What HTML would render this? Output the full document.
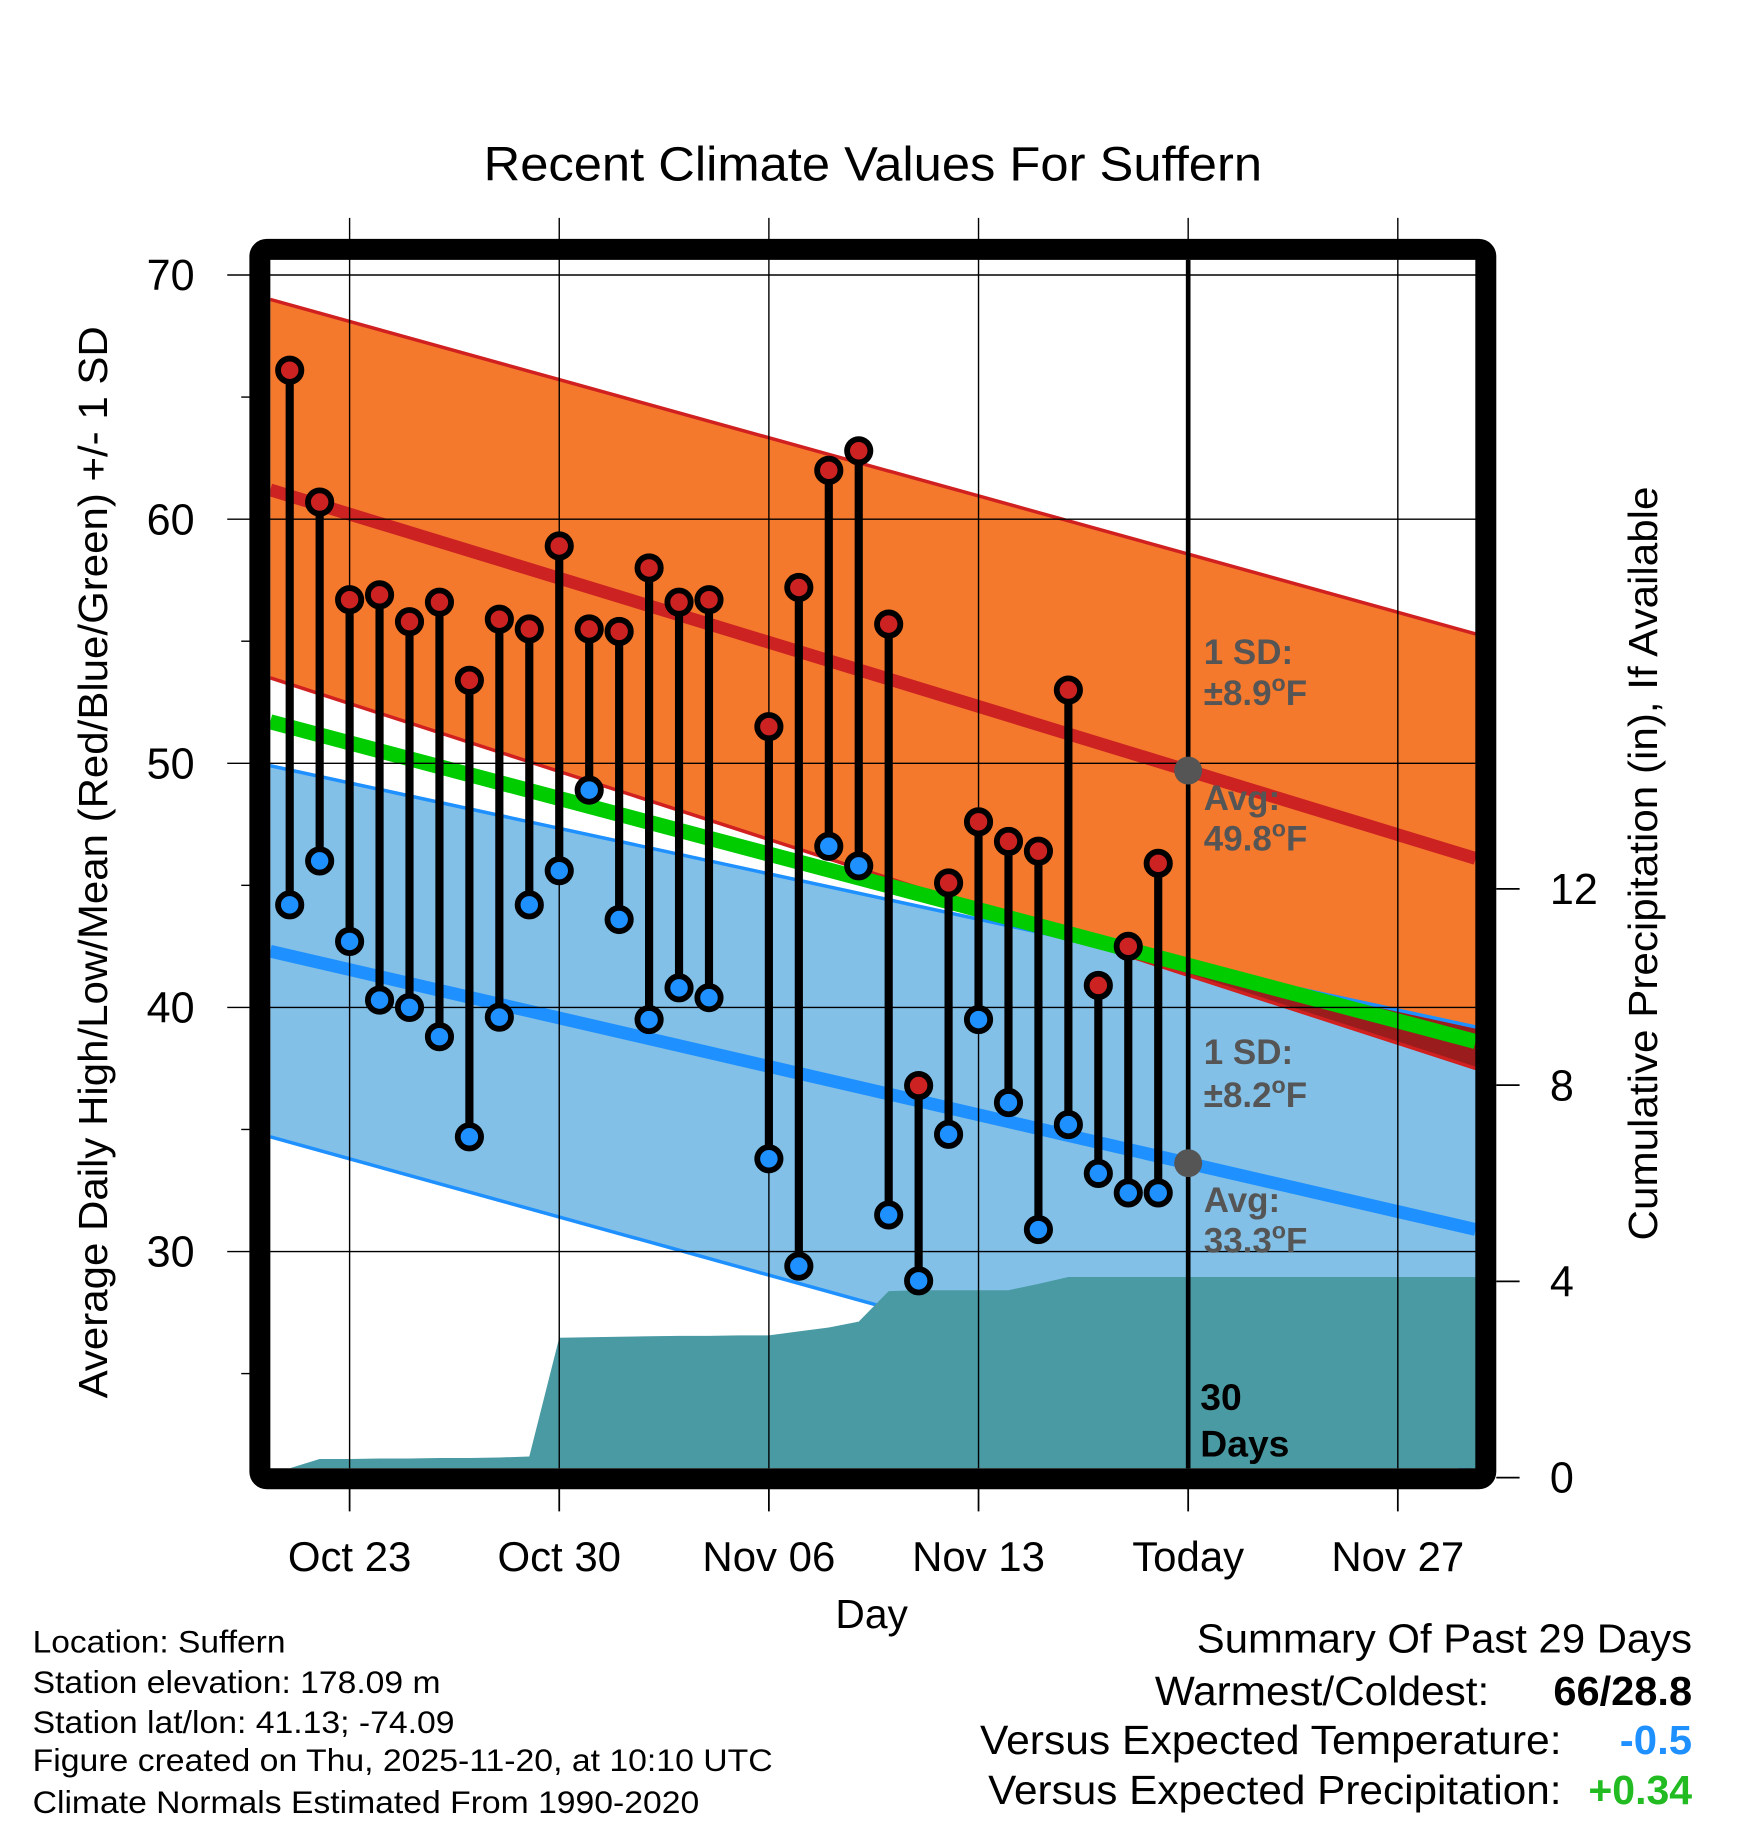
<!DOCTYPE html>
<html><head><meta charset="utf-8"><style>
html,body{margin:0;padding:0;background:#fff;}
svg{display:block;font-family:"Liberation Sans",sans-serif;}
</style></head><body>
<svg id="chart" width="1748" height="1828" viewBox="0 0 1500 1568.7" preserveAspectRatio="none" xmlns="http://www.w3.org/2000/svg">
<text x="749" y="155" font-size="41" text-anchor="middle" textLength="668" lengthAdjust="spacingAndGlyphs">Recent Climate Values For Suffern</text>
<g id="fills"></g>
<g id="grid"></g>
<g id="marks"></g>
<rect x="223" y="214" width="1052" height="1055" rx="6" fill="none" stroke="#000" stroke-width="18"/>
<g id="axes"></g>
<text transform="translate(92,740) rotate(-90)" font-size="35" text-anchor="middle" textLength="920" lengthAdjust="spacingAndGlyphs">Average Daily High/Low/Mean (Red/Blue/Green) +/- 1 SD</text>
<text transform="translate(1422,741) rotate(-90)" font-size="35" text-anchor="middle" textLength="647" lengthAdjust="spacingAndGlyphs">Cumulative Precipitation (in), If Available</text>
<text x="748" y="1397" font-size="35" text-anchor="middle">Day</text>
<g font-size="27">
<text x="28" y="1418" textLength="217" lengthAdjust="spacingAndGlyphs">Location: Suffern</text>
<text x="28" y="1453" textLength="350" lengthAdjust="spacingAndGlyphs">Station elevation: 178.09 m</text>
<text x="28" y="1487" textLength="362" lengthAdjust="spacingAndGlyphs">Station lat/lon: 41.13; -74.09</text>
<text x="28" y="1520" textLength="635" lengthAdjust="spacingAndGlyphs">Figure created on Thu, 2025-11-20, at 10:10 UTC</text>
<text x="28" y="1556" textLength="572" lengthAdjust="spacingAndGlyphs">Climate Normals Estimated From 1990-2020</text>
</g>
<g font-size="35">
<text x="1027" y="1418" textLength="425" lengthAdjust="spacingAndGlyphs">Summary Of Past 29 Days</text>
<text x="991" y="1463" textLength="287" lengthAdjust="spacingAndGlyphs">Warmest/Coldest:</text>
<text x="1333" y="1463" font-weight="bold" textLength="119" lengthAdjust="spacingAndGlyphs">66/28.8</text>
<text x="841" y="1505" textLength="499" lengthAdjust="spacingAndGlyphs">Versus Expected Temperature:</text>
<text x="1390" y="1505" font-weight="bold" fill="#1e90ff" textLength="62" lengthAdjust="spacingAndGlyphs">-0.5</text>
<text x="848" y="1548" textLength="492" lengthAdjust="spacingAndGlyphs">Versus Expected Precipitation:</text>
<text x="1363" y="1548" font-weight="bold" fill="#22bb22" textLength="89" lengthAdjust="spacingAndGlyphs">+0.34</text>
</g>
</svg>
<script>
const dayLabels=["Oct 21","Oct 22","Oct 23","Oct 24","Oct 25","Oct 26","Oct 27","Oct 28","Oct 29","Oct 30","Oct 31","Nov 01","Nov 02","Nov 03","Nov 04","Nov 05","Nov 06","Nov 07","Nov 08","Nov 09","Nov 10","Nov 11","Nov 12","Nov 13","Nov 14","Nov 15","Nov 16","Nov 17","Nov 18","Nov 19"];
const highs=[66.1,60.7,56.7,56.9,55.8,56.6,53.4,55.9,55.5,58.9,55.5,55.4,58.0,56.6,56.7,null,51.5,57.2,62.0,62.8,55.7,36.8,45.1,47.6,46.8,46.4,53.0,40.9,42.5,45.9];
const lows=[44.2,46.0,42.7,40.3,40.0,38.8,34.7,39.6,44.2,45.6,48.9,43.6,39.5,40.8,40.4,null,33.8,29.4,46.6,45.8,31.5,28.8,34.8,39.5,36.1,30.9,35.2,33.2,32.4,32.4];
const precip=[0,0.38,0.38,0.39,0.39,0.40,0.40,0.41,0.43,2.85,2.86,2.87,2.88,2.89,2.89,2.90,2.90,2.98,3.06,3.18,3.80,3.82,3.82,3.82,3.82,3.95,4.09,4.09,4.09,4.09];
const normDays=[-2.65,37.6];
const hiAvg=[61.2,46.1];
const hiUpper=[69.0,55.3];
const hiLower=[53.5,37.5];
const meanAvg=[51.7,38.6];
const loAvg=[42.3,30.9];
const loUpper=[49.9,39.2];
const loLower=[34.7,21.0];
const xTickDays=[0,7,14,21,28,35];
const xTickLabels=["Oct 23","Oct 30","Nov 06","Nov 13","Today","Nov 27"];
const yTicks=[70,60,50,40,30];
const yMinor=[65,55,45,35,25];
const y2Ticks=[0,4,8,12];

const L=232,R=1267,T=223,B=1260;
const X=d=>300+25.7*d;
const Y=v=>236+(70-v)*20.95;
const Y2=p=>1268-p*42.1;
const NS='http://www.w3.org/2000/svg';
function mk(tag,attrs,parent){const e=document.createElementNS(NS,tag);for(const k in attrs)e.setAttribute(k,attrs[k]);document.getElementById(parent).appendChild(e);return e;}
const lin=(arr,d)=>arr[0]+(arr[1]-arr[0])*(d-normDays[0])/(normDays[1]-normDays[0]);
const dL=normDays[0],dR=normDays[1];
function band(up,lo){return `${X(dL)},${Y(up[0])} ${X(dR)},${Y(up[1])} ${X(dR)},${Y(lo[1])} ${X(dL)},${Y(lo[0])}`;}

let e;
const svg=document.getElementById('chart');
const defs=document.createElementNS(NS,'defs');svg.insertBefore(defs,svg.firstChild);
const cp=document.createElementNS(NS,'clipPath');cp.setAttribute('id','pc');defs.appendChild(cp);
const cr=document.createElementNS(NS,'rect');cr.setAttribute('x',L);cr.setAttribute('y',T);cr.setAttribute('width',R-L);cr.setAttribute('height',B-T);cp.appendChild(cr);
document.getElementById('fills').setAttribute('clip-path','url(#pc)');

e=mk('polygon',{points:band(loUpper,loLower),fill:'#82c0e8'},'fills');


e=mk('polygon',{points:band(hiUpper,hiLower),fill:'#f5792c'},'fills');


{const f0=hiLower[0]-loUpper[0],f1=hiLower[1]-loUpper[1];const dc=dL+(dR-dL)*f0/(f0-f1);
e=mk('polygon',{points:`${X(dc)},${Y(lin(hiLower,dc))} ${X(dR)},${Y(loUpper[1])} ${X(dR)},${Y(hiLower[1])}`,fill:'#9b1c1c'},'fills');

}
[[hiUpper,'#d02020',3,'high-upper-sd-line'],[hiLower,'#d02020',3,'high-lower-sd-line'],[loUpper,'#1e90ff',3,'low-upper-sd-line'],[loLower,'#1e90ff',3,'low-lower-sd-line'],[hiAvg,'#cc2222',11,'average-high-line'],[loAvg,'#1e90ff',11,'average-low-line'],[meanAvg,'#00cc00',13,'average-mean-line']].forEach(a=>{
e=mk('line',{x1:X(dL),y1:Y(a[0][0]),x2:X(dR),y2:Y(a[0][1]),stroke:a[1],'stroke-width':a[2]},'fills');


});
{let pts=`${L},${B} ${X(-1)},${B} `;precip.forEach((p,i)=>{pts+=`${X(i-2)},${Math.min(Y2(p),B)} `;});pts+=`${R},${Y2(precip[precip.length-1])} ${R},${B}`;
e=mk('polygon',{points:pts,fill:'#4a9aa4'},'fills');

}

xTickDays.forEach(d=>{e=mk('line',{x1:X(d),y1:187,x2:X(d),y2:B,stroke:'#000','stroke-width':1.2},'grid');


e=mk('line',{x1:X(d),y1:1277,x2:X(d),y2:1297,stroke:'#000','stroke-width':1.5},'grid');

});
yTicks.forEach(v=>{e=mk('line',{x1:195,y1:Y(v),x2:R,y2:Y(v),stroke:'#000','stroke-width':1.2},'grid');

});
yMinor.forEach(v=>{e=mk('line',{x1:207,y1:Y(v),x2:216,y2:Y(v),stroke:'#000','stroke-width':1.2},'grid');

});

e=mk('line',{x1:X(28),y1:T,x2:X(28),y2:B,stroke:'#000','stroke-width':4},'marks');



highs.forEach((h,i)=>{if(h==null)return;const l=lows[i],x=X(i-2);
e=mk('line',{x1:x,y1:Y(h),x2:x,y2:Y(l),stroke:'#000','stroke-width':7},'marks');

});
highs.forEach((h,i)=>{if(h==null)return;const x=X(i-2);
e=mk('circle',{cx:x,cy:Y(h),r:10,fill:'#cc2222',stroke:'#000','stroke-width':5},'marks');


e=mk('circle',{cx:x,cy:Y(lows[i]),r:10,fill:'#1e90ff',stroke:'#000','stroke-width':5},'marks');

});

e=mk('circle',{cx:X(28),cy:Y(lin(hiAvg,28)),r:12,fill:'#555'},'marks');


e=mk('circle',{cx:X(28),cy:Y(lin(loAvg,28)),r:12,fill:'#555'},'marks');



const ann=[["1 SD:",570,""],["±8.9",605,"F"],["Avg:",695,""],["49.8",730,"F"],["1 SD:",913,""],["±8.2",950,"F"],["Avg:",1040,""],["33.3",1075,"F"]];
ann.forEach(a=>{e=mk('text',{x:1033,y:a[1],'font-size':30,'font-weight':'bold',fill:'#555'},'marks');
if(a[2]){e.innerHTML=a[0]+'<tspan font-size="20" dy="-12">o</tspan><tspan dy="12">F</tspan>';}else e.textContent=a[0];

});
[["30",1210],["Days",1250]].forEach(a=>{e=mk('text',{x:1030,y:a[1],'font-size':32,'font-weight':'bold',fill:'#000'},'marks');e.textContent=a[0];

});

yTicks.forEach(v=>{e=mk('text',{x:167,y:Y(v)+13,'font-size':37,'text-anchor':'end'},'axes');e.textContent=v;

});
y2Ticks.forEach(p=>{e=mk('line',{x1:1284,y1:Y2(p),x2:1304,y2:Y2(p),stroke:'#000','stroke-width':1.5},'axes');


e=mk('text',{x:1330,y:Y2(p)+13,'font-size':37},'axes');e.textContent=p;

});
xTickDays.forEach((d,i)=>{e=mk('text',{x:X(d),y:1348,'font-size':36,'text-anchor':'middle'},'axes');e.textContent=xTickLabels[i];

});
</script>
</body></html>
